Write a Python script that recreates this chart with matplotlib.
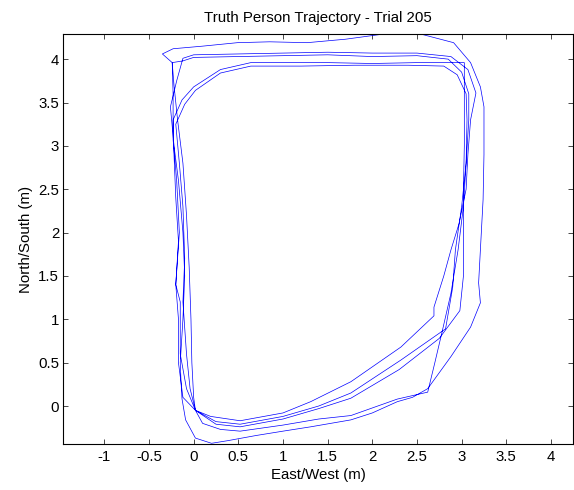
import matplotlib
matplotlib.use("Agg")
import matplotlib.pyplot as plt
import numpy as np

# Walked path of the tracked person, one lap per pair of arrays (metres)
lap1_east = [0.02, 0.19, 0.52, 1.00, 1.31, 1.76, 2.32, 2.69, 2.69, 2.80, 2.88, 2.97, 3.05, 3.07,
             3.10, 3.16, 3.07, 2.88, 2.50, 2.00, 1.50, 1.00, 0.50, 0.00, -0.12, -0.19, -0.26,
             -0.22, -0.17, -0.12, -0.10, -0.12, -0.15, -0.14, -0.13]
lap1_north = [-0.05, -0.12, -0.17, -0.08, 0.05, 0.28, 0.68, 1.04, 1.14, 1.50, 1.80, 2.10, 2.50, 2.90,
              3.30, 3.61, 3.88, 4.03, 4.07, 4.07, 4.08, 4.07, 4.06, 4.05, 4.01, 3.75, 3.45,
              3.00, 2.60, 2.00, 1.50, 1.00, 0.50, 0.25, 0.08]

lap2_east = [-0.09, 0.02, 0.20, 0.38, 0.70, 1.00, 1.31, 1.76, 2.00, 2.28, 2.45, 2.62, 2.88, 3.10,
             3.21, 3.19, 3.21, 3.24, 3.25, 3.25, 3.21, 3.10, 2.91, 2.54, 2.13, 1.70, 1.27, 0.85,
             0.49, 0.10, -0.23, -0.35, -0.24, -0.23, -0.23, -0.19, -0.16, -0.20, -0.15, -0.15,
             -0.08, 0.02]
lap2_north = [-0.16, -0.37, -0.43, -0.40, -0.34, -0.29, -0.24, -0.16, -0.08, 0.05, 0.10, 0.20, 0.57, 0.91,
              1.19, 1.42, 1.80, 2.38, 2.90, 3.45, 3.68, 3.96, 4.19, 4.29, 4.29, 4.23, 4.19, 4.20,
              4.19, 4.15, 4.12, 4.06, 3.96, 3.60, 3.07, 2.60, 2.00, 1.40, 1.20, 0.60,
              0.20, -0.05]

lap3_east = [0.25, 0.52, 1.00, 1.40, 1.76, 2.32, 2.82, 2.90, 2.93, 3.00, 3.05, 3.08, 3.08, 3.00,
             2.85, 2.50, 2.00, 1.50, 1.00, 0.50, 0.00, -0.12, -0.24, -0.22, -0.18, -0.12, -0.08,
             -0.05, -0.03, -0.02, 0.00, 0.02]
lap3_north = [-0.18, -0.21, -0.12, 0.00, 0.15, 0.53, 0.89, 1.37, 1.80, 2.30, 2.80, 3.30, 3.60, 3.85,
              4.00, 4.04, 4.03, 4.05, 4.04, 4.03, 4.02, 3.98, 3.96, 3.70, 3.30, 2.80, 2.20,
              1.60, 1.00, 0.50, 0.10, -0.05]

lap4_east = [0.25, 0.52, 1.00, 1.40, 1.76, 2.30, 2.75, 2.98, 3.02, 3.02, 3.02, 3.03, 3.03, 3.03,
             2.50, 2.00, 1.50, 1.00, 0.64, 0.30, 0.00, -0.13, -0.23, -0.22, -0.20, -0.17, -0.20,
             -0.17, -0.17, -0.12, 0.02]
lap4_north = [-0.21, -0.24, -0.15, -0.03, 0.09, 0.42, 0.78, 1.10, 1.50, 2.00, 2.50, 3.00, 3.50, 3.96,
              3.96, 3.95, 3.96, 3.96, 3.96, 3.88, 3.68, 3.53, 3.30, 2.90, 2.40, 1.90, 1.40,
              1.00, 0.50, 0.10, -0.05]

lap5_east = [0.10, 0.30, 0.52, 1.00, 1.40, 1.76, 2.28, 2.62, 2.70, 2.78, 2.88, 2.96, 3.02, 3.05,
             3.06, 3.05, 2.95, 2.80, 2.40, 1.80, 1.20, 0.64, 0.30, 0.02, -0.10, -0.20, -0.16,
             -0.12, -0.10, -0.12, -0.08, -0.04, 0.02]
lap5_north = [-0.20, -0.27, -0.29, -0.22, -0.15, -0.11, 0.08, 0.16, 0.50, 0.85, 1.30, 1.80, 2.30, 2.80,
              3.30, 3.60, 3.82, 3.92, 3.93, 3.93, 3.92, 3.92, 3.84, 3.64, 3.48, 3.25, 2.80,
              2.30, 1.70, 1.20, 0.60, 0.20, -0.05]

x_ticks = [-1, -0.5, 0, 0.5, 1, 1.5, 2, 2.5, 3, 3.5, 4]
y_ticks = [0, 0.5, 1, 1.5, 2, 2.5, 3, 3.5, 4]
x_tick_labels = ["-1", "-0.5", "0", "0.5", "1", "1.5", "2", "2.5", "3", "3.5", "4"]
y_tick_labels = ["0", "0.5", "1", "1.5", "2", "2.5", "3", "3.5", "4"]

east = np.concatenate([lap1_east, lap2_east, lap3_east, lap4_east, lap5_east])
north = np.concatenate([lap1_north, lap2_north, lap3_north, lap4_north, lap5_north])

plt.rcParams["font.family"] = ["Liberation Sans", "DejaVu Sans"]
FS = 10.8

fig = plt.figure(figsize=(5.74, 4.90), dpi=100)
ax = fig.add_axes([0.1103, 0.0939, 0.8885, 0.8367])
ax.plot(east, north, color="#0000ff", linewidth=0.5)

ax.set_xlim(-1.459, 4.25)
ax.set_ylim(-0.438, 4.29)
ax.set_xticks(x_ticks)
ax.set_xticklabels(x_tick_labels)
ax.set_yticks(y_ticks)
ax.set_yticklabels(y_tick_labels)
ax.tick_params(direction="in", length=3.5, width=0.5, labelsize=FS,
               top=True, right=True)
ax.tick_params(axis="x", pad=4)
ax.tick_params(axis="y", pad=3)
for sp in ax.spines.values():
    sp.set_linewidth(0.8)

ax.set_title("Truth Person Trajectory - Trial 205", fontsize=FS, pad=9)
ax.set_xlabel("East/West (m)", fontsize=FS, labelpad=3)
ax.set_ylabel("North/South (m)", fontsize=FS, labelpad=4)

fig.savefig("out.png", dpi=100)
